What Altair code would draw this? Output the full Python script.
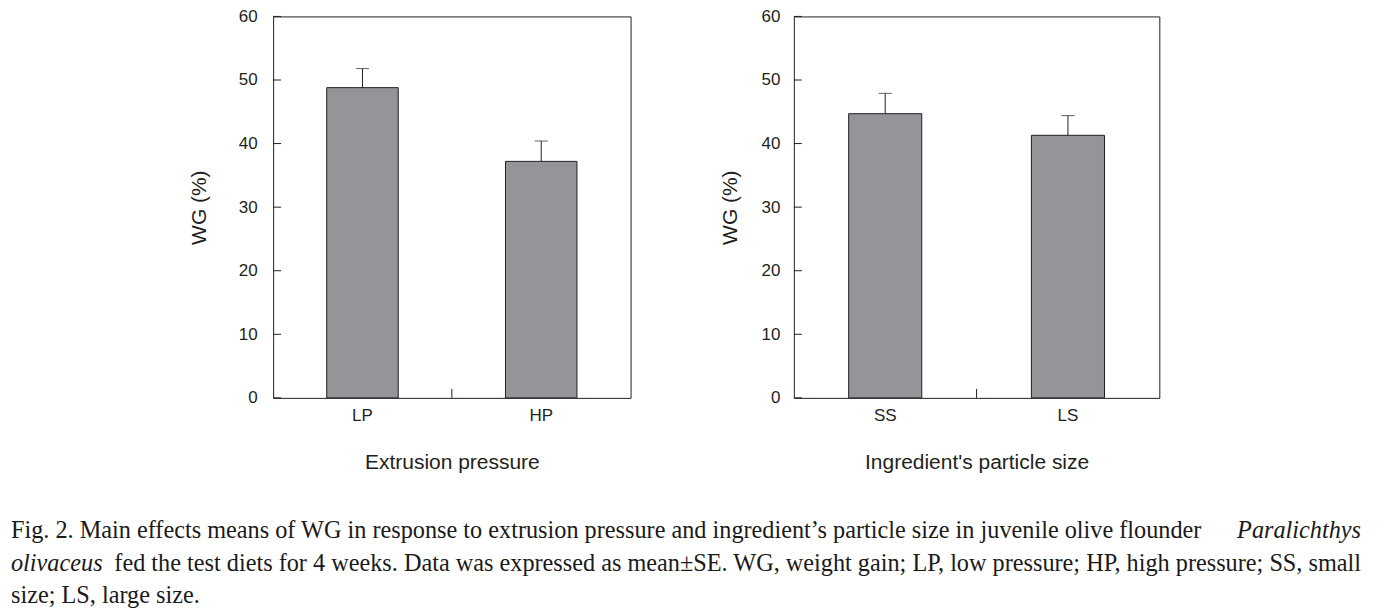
import altair as alt
import pandas as pd

# ---- data ----
cats_left = ["LP", "HP"]
wg_left = [48.8, 37.2]
se_left = [3.0, 3.2]

cats_right = ["SS", "LS"]
wg_right = [44.7, 41.3]
se_right = [3.2, 3.1]

y_ticks = [0, 10, 20, 30, 40, 50, 60]

x_title_left = "Extrusion pressure"
x_title_right = "Ingredient's particle size"
y_title = "WG (%)"

caption_l1a = "Fig. 2. Main effects means of WG in response to extrusion pressure and ingredient\u2019s particle size in juvenile olive flounder"
caption_l1b = "Paralichthys"
caption_l2a = "olivaceus"
caption_l2b = "fed the test diets for 4 weeks. Data was expressed as mean\u00b1SE. WG, weight gain; LP, low pressure; HP, high pressure; SS, small"
caption_l3 = "size; LS, large size."

INK = "#231f20"
BAR = "#939598"
H = 382


def panel(cats, vals, ses, xtitle, width, label_pad, title_pad):
    df = pd.DataFrame({"cat": cats, "wg": vals, "se": ses})
    df["upper"] = df["wg"] + df["se"]
    base = alt.Chart(df)
    xenc = alt.X(
        "cat:N",
        sort=cats,
        scale=alt.Scale(paddingInner=0.6, paddingOuter=0.3),
        axis=alt.Axis(title=xtitle, labelAngle=0, labelPadding=10, titlePadding=28,
                      ticks=False, tickSize=0, domain=False),
    )
    yenc = alt.Y(
        "wg:Q",
        scale=alt.Scale(domain=[0, 60], nice=False),
        axis=alt.Axis(title=y_title, values=y_ticks, labelPadding=label_pad,
                      titlePadding=title_pad, ticks=False, tickSize=0, domain=False),
    )
    bars = base.mark_bar(color=BAR, stroke=INK, strokeWidth=1).encode(x=xenc, y=yenc)
    err = base.mark_rule(color=INK, strokeWidth=1).encode(
        x=alt.X("cat:N", sort=cats), y="wg:Q", y2="upper:Q"
    )
    cap = base.mark_tick(color=INK, size=13, thickness=1).encode(
        x=alt.X("cat:N", sort=cats), y="upper:Q"
    )
    tdf = pd.DataFrame({"t": y_ticks})
    yt = alt.Chart(tdf).mark_rule(color=INK, strokeWidth=1).encode(
        y=alt.Y("t:Q"), x=alt.value(0), x2=alt.value(8)
    )
    mid = alt.Chart(pd.DataFrame({"t": [0]})).mark_rule(color=INK, strokeWidth=1).encode(
        x=alt.value(width / 2), y=alt.value(H - 9), y2=alt.value(H)
    )
    return alt.layer(bars, err, cap, yt, mid).properties(width=width, height=H)


left = panel(cats_left, wg_left, se_left, x_title_left, 358, 16, 28.5)
right = panel(cats_right, wg_right, se_right, x_title_right, 366, 14, 20.5)

spacer = (
    alt.Chart(pd.DataFrame({"a": [0]}))
    .mark_point(opacity=0, size=1)
    .encode(x=alt.value(20), y=alt.value(100))
    .properties(width=91, height=H, view=alt.ViewBackground(stroke="transparent"))
)

top = alt.hconcat(spacer, left, right, spacing=87.5)


def txt(s, x, y, align, italic=False):
    kw = dict(align=align, baseline="alphabetic", font="Liberation Serif",
              fontSize=24.3, color="#1a1a1a")
    if italic:
        kw["fontStyle"] = "italic"
    return alt.Chart(pd.DataFrame({"t": [s]})).mark_text(**kw).encode(
        text="t:N", x=alt.value(x), y=alt.value(y)
    )


caption = alt.layer(
    txt(caption_l1a, 2, 63.6, "left"),
    txt(caption_l1b, 1354, 63.6, "right", True),
    txt(caption_l2a, 2, 96.1, "left", True),
    txt(caption_l2b, 1354, 96.1, "right"),
    txt(caption_l3, 2, 128.1, "left"),
).properties(width=1368, height=126, view=alt.ViewBackground(stroke="transparent"))

chart = (
    alt.vconcat(top, caption, spacing=0)
    .properties(padding={"left": 0, "top": -2, "right": 0, "bottom": 0})
    .configure_view(stroke=INK, strokeWidth=1)
    .configure_axis(
        labelFont="Liberation Sans", titleFont="Liberation Sans",
        labelFontSize=17, titleFontSize=21, labelColor=INK, titleColor=INK,
        titleFontWeight="normal", grid=False,
    )
)

chart.save("out.html", embed_options={"renderer": "svg", "actions": False})
